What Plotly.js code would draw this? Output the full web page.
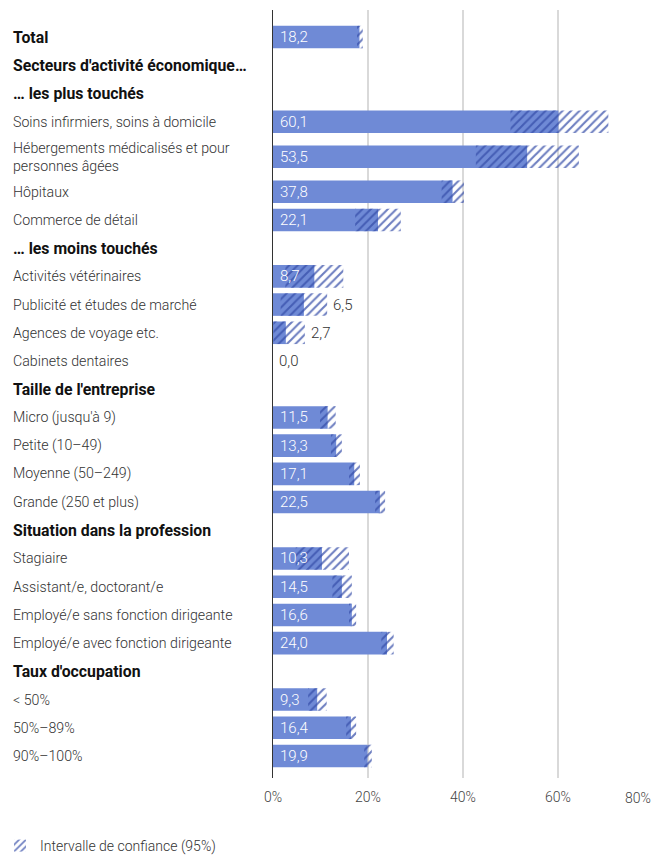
<!DOCTYPE html>
<html>
<head>
<meta charset="utf-8">
<script src="https://cdn.plot.ly/plotly-3.0.1.min.js"></script>
<style>html,body{margin:0;padding:0;background:#fff;}#chart{width:654px;height:855px;}</style>
</head>
<body>
<div id="chart"></div>
<script>
const labels = [
  "Total",
  "Secteurs d'activité économique…",
  "… les plus touchés",
  "Soins infirmiers, soins à domicile",
  "Hébergements médicalisés et pour<br>personnes âgées",
  "Hôpitaux",
  "Commerce de détail",
  "… les moins touchés",
  "Activités vétérinaires",
  "Publicité et études de marché",
  "Agences de voyage etc.",
  "Cabinets dentaires",
  "Taille de l'entreprise",
  "Micro (jusqu'à 9)",
  "Petite (10–49)",
  "Moyenne (50–249)",
  "Grande (250 et plus)",
  "Situation dans la profession",
  "Stagiaire",
  "Assistant/e, doctorant/e",
  "Employé/e sans fonction dirigeante",
  "Employé/e avec fonction dirigeante",
  "Taux d'occupation",
  "< 50%",
  "50%–89%",
  "90%–100%"
];
const isHeader = [true,true,true,false,false,false,false,true,false,false,false,false,true,false,false,false,false,true,false,false,false,false,true,false,false,false];
const values = [18.2,null,null,60.1,53.5,37.8,22.1,null,8.7,6.5,2.7,0.0,null,11.5,13.3,17.1,22.5,null,10.3,14.5,16.6,24.0,null,9.3,16.4,19.9];
const ciLow  = [17.7,null,null,50.0,42.7,35.5,17.3,null,2.6,1.6,0.1,0.0,null,9.9,12.2,16.0,21.5,null,4.8,12.5,16.0,22.8,null,7.4,15.4,19.2];
const ciHigh = [18.9,null,null,70.6,64.4,40.2,26.9,null,14.8,11.4,6.7,0.0,null,13.2,14.5,18.3,23.6,null,16.0,16.6,17.5,25.4,null,11.3,17.5,20.8];
const tickVals = [0,20,40,60,80];
const tickText = ["0%","20%","40%","60%","80%"];
const legendName = "Intervalle de confiance (95%)";

// row positions (multi-line labels get a little more room)
const pos = [];
let p = 0;
labels.forEach((l, i) => {
  const multi = l.indexOf('<br>') >= 0;
  if (i > 0) p += 1;
  if (multi) p += 0.24;
  pos.push(p);
  if (multi) p += 0.24;
});

const barColor = '#6f8ad6';
const hatchColor = 'rgba(52,76,168,0.72)';
const fmt = v => v.toFixed(1).replace('.', ',');

const solid = {
  type: 'bar', orientation: 'h',
  y: pos, x: values, base: 0, width: 0.8,
  marker: {color: barColor, line: {width: 0}},
  showlegend: false, hoverinfo: 'skip'
};
const ci = {
  type: 'bar', orientation: 'h', name: legendName,
  y: pos,
  x: ciHigh.map((h, i) => (h === null ? null : h - ciLow[i])),
  base: ciLow, width: 0.8,
  marker: {color: hatchColor, line: {width: 0},
    pattern: {shape: '/', fillmode: 'replace', fgcolor: hatchColor, bgcolor: 'rgba(0,0,0,0)', size: 6, solidity: 0.35}},
  showlegend: true, hoverinfo: 'skip'
};

const annotations = [];
labels.forEach((l, i) => {
  annotations.push({
    xref: 'paper', yref: 'y', x: 0, y: pos[i], xanchor: 'left', yanchor: 'middle',
    xshift: -262, align: 'left', showarrow: false,
    text: isHeader[i] ? '<b>' + l + '</b>' : l,
    font: isHeader[i] ? {family: 'Roboto', size: 15.8, color: '#111'}
                      : {family: 'Roboto', size: 14.2, color: '#333', weight: 300}
  });
  if (values[i] !== null) {
    const outside = values[i] < 7;
    annotations.push({
      xref: 'x', yref: 'y', x: outside ? ciHigh[i] : 0, y: pos[i],
      xanchor: 'left', yanchor: 'middle', xshift: outside ? 4 : 5, showarrow: false,
      text: fmt(values[i]),
      font: {family: 'Roboto', size: 15, weight: 300, color: outside ? '#333' : '#ffffff'}
    });
  }
});
// last tick label kept inside the page
annotations.push({
  xref: 'x', yref: 'paper', x: tickVals[4], y: 0, xanchor: 'right', yanchor: 'top',
  yshift: -10, showarrow: false, text: tickText[4],
  font: {family: 'Roboto', size: 14, color: '#444', weight: 300}
});

const layout = {
  width: 654, height: 855,
  margin: {l: 273, r: 1, t: 10, b: 77},
  paper_bgcolor: '#fff', plot_bgcolor: '#fff',
  barmode: 'overlay',
  font: {family: 'Roboto', size: 14, color: '#333'},
  xaxis: {
    range: [0, 80], tickvals: tickVals, ticktext: tickText.map((t, i) => i === 4 ? '' : t),
    showgrid: true, gridcolor: '#d9d9d9', gridwidth: 1.5, zeroline: false,
    ticks: '', ticklabelstandoff: 9,
    tickfont: {family: 'Roboto', size: 14, color: '#444', weight: 300}, fixedrange: true
  },
  yaxis: {
    range: [pos[pos.length - 1] + 0.78, -0.96],
    showticklabels: false, ticks: '', showgrid: false, zeroline: false,
    showline: true, linecolor: '#333', linewidth: 1.5, fixedrange: true
  },
  showlegend: true,
  legend: {
    xref: 'container', yref: 'container', x: -0.004, y: 1 - 846 / 855,
    xanchor: 'left', yanchor: 'middle', orientation: 'h',
    font: {family: 'Roboto', size: 14, color: '#333', weight: 300}, bgcolor: 'rgba(0,0,0,0)'
  },
  annotations: annotations
};

Plotly.newPlot('chart', [solid, ci], layout, {displayModeBar: false, staticPlot: true});
</script>
</body>
</html>
